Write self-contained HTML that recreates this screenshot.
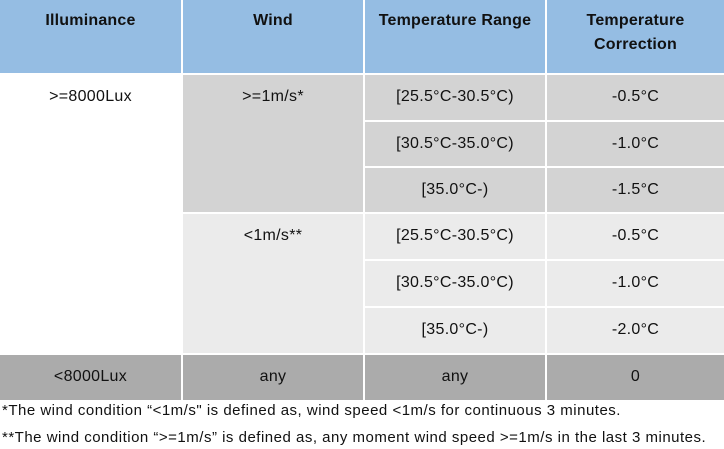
<!DOCTYPE html><html><head><style>
body{margin:0;width:724px;height:449px;background:#fff;font-family:"Liberation Sans",Arial,sans-serif;position:relative;overflow:hidden}
.c{position:absolute;text-align:center;font-size:16px;letter-spacing:0.3px;color:#111;box-sizing:border-box;padding-top:13px}
.h{background:#95bde3;font-weight:bold;padding-top:9px;line-height:24px;letter-spacing:0.2px}
.g1{background:#d3d3d3}.g2{background:#ebebeb}.g3{background:#ababab}
.f{position:absolute;left:2px;font-size:15px;letter-spacing:0.5px;color:#111;white-space:nowrap}
</style></head><body>
<div class="c h" style="left:0;top:0;width:181px;height:73px">Illuminance</div>
<div class="c h" style="left:183px;top:0;width:180px;height:73px">Wind</div>
<div class="c h" style="left:365px;top:0;width:180px;height:73px">Temperature Range</div>
<div class="c h" style="left:547px;top:0;width:177px;height:73px">Temperature<br>Correction</div>

<div class="c" style="left:0;top:75px;width:181px;height:278px">&gt;=8000Lux</div>
<div class="c g1" style="left:183px;top:75px;width:180px;height:137px">&gt;=1m/s*</div>
<div class="c g2" style="left:183px;top:214px;width:180px;height:139px">&lt;1m/s**</div>

<div class="c g1" style="left:365px;top:75px;width:180px;height:45px">[25.5°C-30.5°C)</div>
<div class="c g1" style="left:365px;top:122px;width:180px;height:44px">[30.5°C-35.0°C)</div>
<div class="c g1" style="left:365px;top:168px;width:180px;height:44px">[35.0°C-)</div>
<div class="c g2" style="left:365px;top:214px;width:180px;height:45px">[25.5°C-30.5°C)</div>
<div class="c g2" style="left:365px;top:261px;width:180px;height:45px">[30.5°C-35.0°C)</div>
<div class="c g2" style="left:365px;top:308px;width:180px;height:45px">[35.0°C-)</div>

<div class="c g1" style="left:547px;top:75px;width:177px;height:45px">-0.5°C</div>
<div class="c g1" style="left:547px;top:122px;width:177px;height:44px">-1.0°C</div>
<div class="c g1" style="left:547px;top:168px;width:177px;height:44px">-1.5°C</div>
<div class="c g2" style="left:547px;top:214px;width:177px;height:45px">-0.5°C</div>
<div class="c g2" style="left:547px;top:261px;width:177px;height:45px">-1.0°C</div>
<div class="c g2" style="left:547px;top:308px;width:177px;height:45px">-2.0°C</div>

<div class="c g3" style="left:0;top:355px;width:181px;height:45px">&lt;8000Lux</div>
<div class="c g3" style="left:183px;top:355px;width:180px;height:45px">any</div>
<div class="c g3" style="left:365px;top:355px;width:180px;height:45px">any</div>
<div class="c g3" style="left:547px;top:355px;width:177px;height:45px">0</div>

<div class="f" style="top:402px">*The wind condition “&lt;1m/s" is defined as, wind speed &lt;1m/s for continuous 3 minutes.</div>
<div class="f" style="top:429px">**The wind condition “&gt;=1m/s” is defined as, any moment wind speed &gt;=1m/s in the last 3 minutes.</div>
</body></html>
